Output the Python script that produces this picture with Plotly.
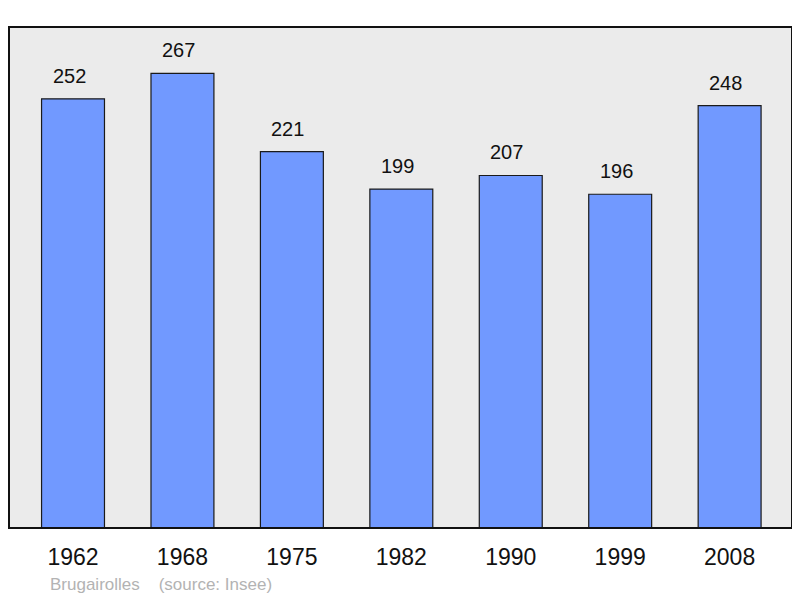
import plotly.graph_objects as go

years = ["1962", "1968", "1975", "1982", "1990", "1999", "2008"]
population = [252, 267, 221, 199, 207, 196, 248]
commune = "Brugairolles"
source = "(source: Insee)"

# The page body has an 8px margin, so the figure is made 8px smaller
W, H = 792, 590
L, R, T, B = 1, 8, 19, 70

x_pos = list(range(len(years)))
FONT = "Liberation Sans, Arial, sans-serif"

fig = go.Figure()
fig.add_trace(go.Bar(
    x=x_pos, y=population, width=0.575,
    marker=dict(color="#7199ff", line=dict(color="#1a1a1a", width=1.2)),
    hoverinfo="skip",
))

for xi, v in zip(x_pos, population):
    fig.add_annotation(x=xi, y=v, text=str(v), showarrow=False,
                       yanchor="middle", yshift=23, xshift=-4,
                       font=dict(family=FONT, size=20, color="#111111"))

fig.add_annotation(xref="paper", yref="paper", x=0, y=0, xanchor="left", yanchor="middle",
                   xshift=39, yshift=-56, showarrow=False,
                   text=commune + "&nbsp;&nbsp;&nbsp;&nbsp;" + source,
                   font=dict(family=FONT, size=17, color="#b3b3b3"))

fig.add_shape(type="rect", xref="paper", yref="paper", x0=0, y0=0, x1=1, y1=1,
              line=dict(color="#111111", width=2), layer="above")

fig.update_layout(
    width=W, height=H,
    margin=dict(l=L, r=R, t=T, b=B, pad=0),
    paper_bgcolor="white", plot_bgcolor="#ebebeb",
    showlegend=False,
    xaxis=dict(range=[-0.585, 6.57], tickvals=x_pos, ticktext=years,
               showgrid=False, zeroline=False, showline=False,
               ticks="outside", ticklen=8, tickcolor="rgba(0,0,0,0)",
               tickfont=dict(family=FONT, size=23, color="#111111"),
               fixedrange=True),
    yaxis=dict(range=[0, 294.2], showgrid=False, zeroline=False, showline=False,
               showticklabels=False, ticks="", fixedrange=True),
)

fig.write_html("out.html", config={"displayModeBar": False})
